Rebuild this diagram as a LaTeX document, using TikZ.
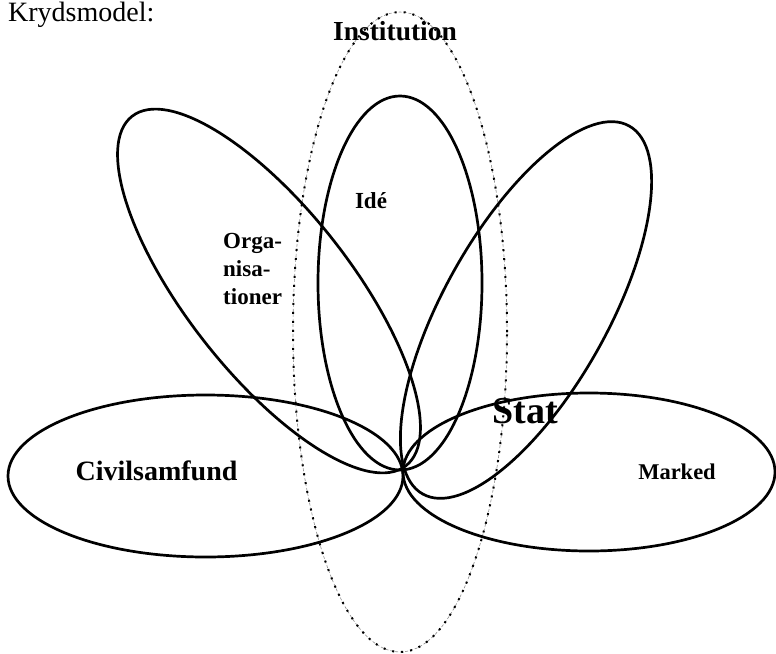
\documentclass[tikz,border=0pt]{standalone}
\usepackage{fontspec}
\setmainfont{Liberation Serif}
\begin{document}
\begin{tikzpicture}[x=1pt, y=-1pt,
    petal/.style={draw, line width=2.7pt},
    instgrey/.style={draw=black!45, line width=0.6pt, dash pattern=on 3pt off 2pt},
    instdots/.style={draw, line width=2pt, dash pattern=on 2pt off 7pt},
    lbl/.style={inner sep=0pt, anchor=base}
]
\useasboundingbox (0,0) rectangle (776,653);
% the dotted institution ring
\draw[instgrey] (400,332) ellipse [x radius=107pt, y radius=320pt];
\draw[instdots] (400,332) ellipse [x radius=107pt, y radius=320pt];
% petals meeting in the middle
\draw[petal] (205.5,476) ellipse [x radius=197.5pt, y radius=81pt];
\draw[petal] (589,472) ellipse [x radius=186pt, y radius=79pt];
\draw[petal] (400,283) ellipse [x radius=82pt, y radius=187pt];
\draw[petal, rotate around={-51.9:(269,291)}] (269,291) ellipse [x radius=222pt, y radius=82pt];
\draw[petal, rotate around={60.7:(526,310)}] (526,310) ellipse [x radius=211pt, y radius=82pt];
% labels
\node[anchor=base west, inner sep=0pt, font=\fontsize{28}{32}\selectfont] (title) at (8,21) {Krydsmodel:};
\node[lbl, font=\bfseries\fontsize{27.5}{30}\selectfont] (inst) at (395,40) {Institution};
\node[lbl, font=\bfseries\fontsize{23}{27}\selectfont] (ide) at (371,208) {Idé};
\node[anchor=north west, inner sep=0pt, align=left, font=\bfseries\fontsize{23}{28}\selectfont] (org) at (223,233) {Orga-\\nisa-\\tioner};
\node[lbl, font=\bfseries\fontsize{28}{30}\selectfont] (civil) at (156.5,480) {Civilsamfund};
\node[lbl, font=\bfseries\fontsize{38}{40}\selectfont] (stat) at (525,423) {Stat};
\node[lbl, font=\bfseries\fontsize{22.5}{26}\selectfont] (marked) at (677,479) {Marked};
\end{tikzpicture}
\end{document}
